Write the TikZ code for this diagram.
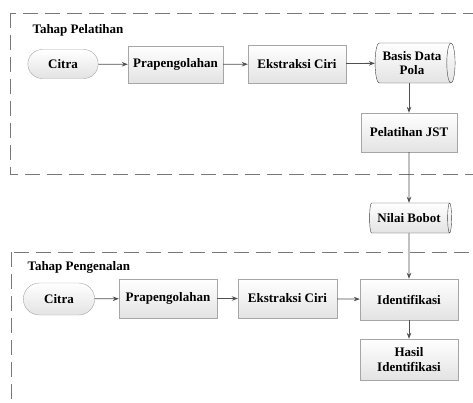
\documentclass[tikz,border=0pt]{standalone}
\usepackage{fontspec}
\newfontfamily\huruf{Liberation Serif}
\usetikzlibrary{shapes.geometric,shapes.misc,arrows.meta}
\definecolor{garis}{RGB}{120,120,120}
\definecolor{panah}{RGB}{80,80,80}
\begin{document}
\begin{tikzpicture}[x=1pt,y=-1pt,>={Stealth[length=6pt,width=4.5pt]},
    font=\huruf\fontsize{13}{14.5}\selectfont\bfseries,
    kotak/.style={draw=gray!70,top color=white,bottom color=gray!22,minimum width=96pt,minimum height=39pt,inner sep=2pt,align=center},
    mulai/.style={rounded rectangle,draw=gray!70,top color=white,bottom color=gray!22,minimum width=77pt,minimum height=29pt},
    tabung/.style={cylinder,shape aspect=0.3,draw=black!75,top color=white,bottom color=gray!22,inner sep=2pt,align=center},
    tahap/.style={draw=garis,thick,dash pattern=on 15pt off 7pt},
    alur/.style={->,draw=panah,line width=0.8pt}]
    \clip (0,0) rectangle (473,403);
    %\draw[help lines] (0,0) grid[step=50] (473,403);
    \draw[tahap] (10,13) rectangle (490,174);
    \draw[tahap] (11,252) rectangle (490,420);
    \node[anchor=west] (lblatih) at (29,30) {Tahap Pelatihan};
    \node[anchor=west] (lbkenal) at (24,267) {Tahap Pengenalan};
    % tahap pelatihan
    \node[mulai] (citra1) at (63,64) {Citra};
    \node[kotak,minimum width=95pt,minimum height=37pt] (prap1) at (175.5,64.5) {Prapengolahan};
    \node[kotak,minimum width=98pt,minimum height=38pt] (ciri1) at (297,64) {Ekstraksi Ciri};
    \node[tabung,minimum height=80pt,minimum width=40pt] (basis) at (412,63) {Basis Data\\Pola};
    \node[kotak] (latih) at (409,132.5) {Pelatihan JST};
    \node[tabung,minimum height=82pt,minimum width=30pt] (bobot) at (409,218) {Nilai Bobot};
    % tahap pengenalan
    \node[mulai,minimum width=78pt,minimum height=32pt] (citra2) at (59,299) {Citra};
    \node[kotak,minimum width=98pt] (prap2) at (168,298.5) {Prapengolahan};
    \node[kotak,minimum width=99pt] (ciri2) at (287.5,298.5) {Ekstraksi Ciri};
    \node[kotak,minimum width=98pt,minimum height=41pt] (ident) at (409,299.5) {Identifikasi};
    \node[kotak,minimum width=98pt,minimum height=41pt] (hasil) at (409,359.5) {Hasil\\Identifikasi};
    \draw[alur] (citra1) -- (prap1);
    \draw[alur] (prap1) -- (ciri1);
    \draw[alur] (ciri1) -- (basis);
    \draw[alur] (latih.north |- basis.south) -- (latih);
    \draw[alur] (latih) -- (bobot);
    \draw[alur] (bobot) -- (ident);
    \draw[alur] (citra2) -- (prap2);
    \draw[alur] (prap2) -- (ciri2);
    \draw[alur] (ciri2) -- (ident);
    \draw[alur] (ident) -- (hasil);
\end{tikzpicture}
\end{document}
